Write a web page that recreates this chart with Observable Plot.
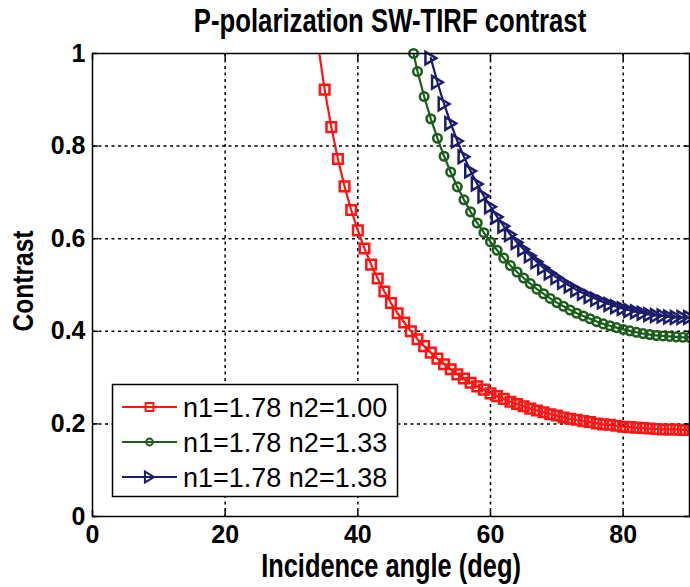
<!DOCTYPE html>
<html><head><meta charset="utf-8">
<script src="https://cdn.jsdelivr.net/npm/d3@7"></script>
<script src="https://cdn.jsdelivr.net/npm/@observablehq/plot@0.6"></script>
<style>
html,body{margin:0;padding:0;background:#fff;}
#chart{position:relative;width:690px;height:587px;overflow:hidden;}
</style></head><body><div id="chart"></div>
<script>
// ---- data ----
const angleRed = [34,35,36,37,38,39,40,41,42,43,44,45,46,47,48,49,50,51,52,53,54,55,56,57,58,59,60,61,62,63,64,65,66,67,68,69,70,71,72,73,74,75,76,77,78,79,80,81,82,83,84,85,86,87,88,89,90];
const contrastRed = [1.019,0.922,0.841,0.772,0.713,0.662,0.618,0.579,0.544,0.514,0.486,0.461,0.439,0.419,0.400,0.383,0.368,0.354,0.341,0.329,0.318,0.307,0.298,0.289,0.281,0.274,0.266,0.260,0.254,0.248,0.243,0.238,0.233,0.229,0.225,0.221,0.218,0.214,0.211,0.209,0.206,0.204,0.201,0.199,0.198,0.196,0.194,0.193,0.192,0.191,0.190,0.189,0.188,0.188,0.188,0.187,0.187];
const angleGreen = [48.4,49,50,51,52,53,54,55,56,57,58,59,60,61,62,63,64,65,66,67,68,69,70,71,72,73,74,75,76,77,78,79,80,81,82,83,84,85,86,87,88,89,90];
const contrastGreen = [1.0,0.961,0.907,0.859,0.817,0.778,0.744,0.712,0.684,0.658,0.634,0.613,0.593,0.575,0.558,0.542,0.528,0.515,0.503,0.491,0.481,0.471,0.462,0.454,0.446,0.439,0.433,0.427,0.421,0.416,0.412,0.408,0.404,0.401,0.398,0.395,0.393,0.391,0.390,0.389,0.388,0.387,0.387];
const angleBlue = [51,52,53,54,55,56,57,58,59,60,61,62,63,64,65,66,67,68,69,70,71,72,73,74,75,76,77,78,79,80,81,82,83,84,85,86,87,88,89,90];
const contrastBlue = [0.990,0.938,0.891,0.849,0.811,0.777,0.746,0.718,0.692,0.669,0.647,0.627,0.609,0.592,0.577,0.563,0.550,0.537,0.526,0.516,0.506,0.498,0.489,0.482,0.475,0.469,0.463,0.458,0.453,0.449,0.445,0.442,0.439,0.436,0.434,0.433,0.431,0.430,0.430,0.430];

const seriesNames = ["n1=1.78 n2=1.00", "n1=1.78 n2=1.33", "n1=1.78 n2=1.38"];
const seriesColors = ["#ff1414", "#1b5e1b", "#1c1c6e"];
const xTicks = [0, 20, 40, 60, 80];
const yTicks = [0, 0.2, 0.4, 0.6, 0.8, 1];
const titleText = "P-polarization SW-TIRF contrast";
const xLabelText = "Incidence angle (deg)";
const yLabelText = "Contrast";

// ---- build tables ----
const toRows = (angles, values) => angles.map((a, i) => ({angle: a, contrast: values[i]}));
const red = toRows(angleRed, contrastRed);
const green = toRows(angleGreen, contrastGreen);
const blue = toRows(angleBlue, contrastBlue);

const triangleRight = {
  draw(context, size) {
    const r = Math.sqrt(size / Math.PI);
    context.moveTo(0.85 * r, 0);
    context.lineTo(-0.85 * r, -r);
    context.lineTo(-0.85 * r, r);
    context.closePath();
  }
};
const symbols = ["square", "circle", triangleRight];
const radii = [5.4, 4.3, 6.3];
const series = [red, green, blue];

const gridStyle = {stroke: "#000", strokeOpacity: 1, strokeWidth: 1.5, strokeDasharray: "3,3.5"};
const tickFont = {fontSize: 25, fontWeight: "bold"};

const marks = [
  Plot.gridX(xTicks.filter(d => d > 0), gridStyle),
  Plot.gridY(yTicks.filter(d => d > 0 && d < 1), gridStyle)
];
series.forEach((rows, k) => {
  marks.push(Plot.line(rows, {x: "angle", y: "contrast", stroke: seriesColors[k], strokeWidth: 2.2, clip: true}));
  marks.push(Plot.dot(rows.filter(d => d.contrast <= 1), {x: "angle", y: "contrast", symbol: symbols[k], r: radii[k], stroke: seriesColors[k], strokeWidth: 2.5, fill: "none"}));
});
marks.push(
  Plot.frame({stroke: "#000", strokeWidth: 1.5}),
  Plot.axisX({ticks: xTicks, anchor: "bottom", tickSize: -6, tickPadding: 15, tickFormat: d => String(d), strokeWidth: 1.5, ...tickFont}),
  Plot.axisX({ticks: xTicks, anchor: "top", tickSize: -6, tickFormat: () => "", strokeWidth: 1.5}),
  Plot.axisY({ticks: yTicks, anchor: "left", tickSize: -6, tickPadding: 13, tickFormat: d => String(d), strokeWidth: 1.5, ...tickFont}),
  Plot.axisY({ticks: yTicks, anchor: "right", tickSize: -6, tickFormat: () => "", strokeWidth: 1.5})
);

const chart = Plot.plot({
  width: 690,
  height: 587,
  marginLeft: 92,
  marginRight: 1,
  marginTop: 53,
  marginBottom: 71,
  x: {domain: [0, 90], label: null},
  y: {domain: [0, 1], label: null},
  style: {fontFamily: "'Liberation Sans', Arial, Helvetica, sans-serif", background: "#fff", color: "#000", overflow: "visible"},
  marks
});
document.getElementById("chart").appendChild(chart);

// ---- title, axis labels, legend ----
const svg = d3.select(chart);
const ff = "'Liberation Sans', Arial, Helvetica, sans-serif";
svg.append("text").text(titleText)
  .attr("transform", "translate(390,32) scale(0.83,1.05)")
  .attr("text-anchor", "middle").attr("font-family", ff).attr("font-weight", "bold").attr("font-size", 31).attr("fill", "#000");
svg.append("text").text(xLabelText)
  .attr("transform", "translate(391,577) scale(0.82,1.05)")
  .attr("text-anchor", "middle").attr("font-family", ff).attr("font-weight", "bold").attr("font-size", 31).attr("fill", "#000");
svg.append("text").text(yLabelText)
  .attr("transform", "translate(33,281) rotate(-90) scale(0.82,1)")
  .attr("text-anchor", "middle").attr("font-family", ff).attr("font-weight", "bold").attr("font-size", 30).attr("fill", "#000");

const legend = svg.append("g");
legend.append("rect").attr("x", 112.5).attr("y", 384.5).attr("width", 285).attr("height", 112)
  .attr("fill", "#fff").attr("stroke", "#000").attr("stroke-width", 1.5);
const d3Symbols = [d3.symbolSquare, d3.symbolCircle, triangleRight];
const legendRadii = [4.4, 3.4, 5.4];
seriesNames.forEach((name, k) => {
  const cy = 407 + 35 * k;
  legend.append("line").attr("x1", 122).attr("x2", 177).attr("y1", cy).attr("y2", cy)
    .attr("stroke", seriesColors[k]).attr("stroke-width", 2.2);
  legend.append("path").attr("transform", `translate(149.5,${cy})`)
    .attr("d", d3.symbol(d3Symbols[k], Math.PI * legendRadii[k] * legendRadii[k])())
    .attr("fill", "none").attr("stroke", seriesColors[k]).attr("stroke-width", 2);
  legend.append("text").text(name).attr("x", 183).attr("y", cy + 9.5)
    .attr("text-anchor", "start")
    .attr("font-family", ff).attr("font-size", 27).attr("fill", "#000");
});
</script></body></html>
